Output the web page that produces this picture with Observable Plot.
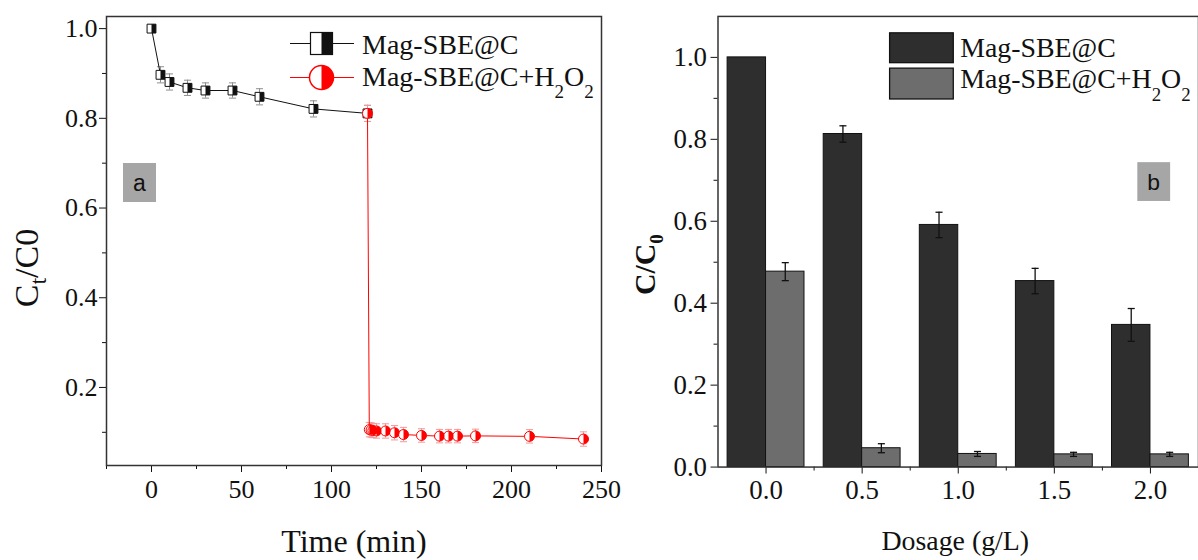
<!DOCTYPE html>
<html>
<head>
<meta charset="utf-8">
<script src="https://cdn.jsdelivr.net/npm/d3@7"></script>
<script src="https://cdn.jsdelivr.net/npm/@observablehq/plot@0.6"></script>
<style>
html, body { margin: 0; padding: 0; background: #fff; overflow: hidden; }
#wrap { position: relative; width: 1198px; height: 560px; overflow: hidden; }
#pa { position: absolute; left: 0; top: 0; }
#pb { position: absolute; left: 620px; top: 0; }
</style>
</head>
<body>
<div id="wrap"><div id="pa"></div><div id="pb"></div></div>
<script>
// ---------- Panel a data ----------
const seriesNames = ["Mag-SBE@C", "Mag-SBE@C+H2O2"];
const timeA  = [0, 5, 10, 20, 30, 45, 60, 90, 120];
const ratioA = [1.0, 0.897, 0.881, 0.868, 0.862, 0.862, 0.848, 0.821, 0.811];
const errA   = [0.006, 0.018, 0.018, 0.017, 0.017, 0.017, 0.018, 0.018, 0.018];
const timeB  = [120, 121, 122, 123, 125, 130, 135, 140, 150, 160, 165, 170, 180, 210, 240];
const ratioB = [0.811, 0.106, 0.105, 0.104, 0.103, 0.103, 0.099, 0.095, 0.093, 0.0915, 0.0915, 0.0915, 0.092, 0.091, 0.085];
const errB   = [0.018, 0.016, 0.016, 0.016, 0.016, 0.016, 0.016, 0.016, 0.015, 0.015, 0.015, 0.015, 0.015, 0.015, 0.016];
const xTicksA = [0, 50, 100, 150, 200, 250];
const xMinorA = [-25, 25, 75, 125, 175, 225];
const yTicksA = [0.2, 0.4, 0.6, 0.8, 1.0];
const yMinorA = [0.1, 0.3, 0.5, 0.7, 0.9];

// ---------- Panel b data ----------
const dosage  = [0.0, 0.5, 1.0, 1.5, 2.0];
const barC    = [1.0, 0.813, 0.591, 0.454, 0.347];
const barCErr = [0, 0.02, 0.031, 0.031, 0.04];
const barH    = [0.477, 0.046, 0.032, 0.031, 0.031];
const barHErr = [0.022, 0.011, 0.006, 0.005, 0.005];
const xTicksB = [0.0, 0.5, 1.0, 1.5, 2.0];
const xMinorB = [0.25, 0.75, 1.25, 1.75];
const yTicksB = [0.0, 0.2, 0.4, 0.6, 0.8, 1.0];
const yMinorB = [0.1, 0.3, 0.5, 0.7, 0.9];

const SERIF = "Liberation Serif, Times New Roman, serif";
const SANS = "Liberation Sans, Arial, sans-serif";

const dataA = timeA.map((t, i) => ({t, v: ratioA[i], e: errA[i]}));
const dataB = timeB.map((t, i) => ({t, v: ratioB[i], e: errB[i]}));
const dataD = dosage.map((d, i) => ({d, c: barC[i], ce: barCErr[i], h: barH[i], he: barHErr[i]}));

// custom symbols
const halfSquare = {draw(ctx, size) { const s = Math.sqrt(size) / 2; ctx.moveTo(0, -s); ctx.lineTo(s, -s); ctx.lineTo(s, s); ctx.lineTo(0, s); ctx.closePath(); }};
const halfCircle = {draw(ctx, size) { const r = Math.sqrt(size / Math.PI); ctx.moveTo(0, -r); ctx.arc(0, 0, r, -Math.PI / 2, Math.PI / 2); ctx.closePath(); }};
const cap = {draw(ctx, size) { const w = Math.sqrt(size) / 2; ctx.moveTo(-w, 0); ctx.lineTo(w, 0); }};

function errMarks(data, xf, color, width) {
  return [
    Plot.ruleX(data, {x: xf, y1: d => d.v - d.e, y2: d => d.v + d.e, stroke: color, strokeWidth: width}),
    Plot.dot(data, {x: xf, y: d => d.v + d.e, symbol: cap, r: 4, fill: "none", stroke: color, strokeWidth: width}),
    Plot.dot(data, {x: xf, y: d => d.v - d.e, symbol: cap, r: 4, fill: "none", stroke: color, strokeWidth: width})
  ];
}

const fa = {fontFamily: SERIF, fontSize: 26};
const fb = {fontFamily: SERIF, fontSize: 27};

const plotA = Plot.plot({
  width: 620, height: 560,
  marginLeft: 106, marginRight: 19, marginTop: 16, marginBottom: 95,
  x: {domain: [-25, 250]},
  y: {domain: [0.026, 1.027]},
  style: {color: "#111", background: "transparent", overflow: "visible"},
  marks: [
    Plot.axisX({ticks: xTicksA, tickSize: 7, tickPadding: 7, tickFormat: d => String(d), label: null, ...fa}),
    Plot.axisX({ticks: xMinorA, tickSize: 4, tickFormat: () => "", label: null}),
    Plot.axisY({ticks: yTicksA, tickSize: 7, tickPadding: 2, tickFormat: d3.format(".1f"), label: null, ...fa}),
    Plot.axisY({ticks: yMinorA, tickSize: 4, tickFormat: () => "", label: null}),
    ...errMarks(dataA, "t", "#8f8f8f", 1),
    ...errMarks(dataB, "t", "#f19a9a", 1),
    Plot.line(dataA, {x: "t", y: "v", stroke: "#111", strokeWidth: 1}),
    Plot.line(dataB, {x: "t", y: "v", stroke: "#ff0000", strokeWidth: 1}),
    Plot.dot(dataA, {x: "t", y: "v", symbol: "square", r: 5, fill: "#fff", stroke: "#111", strokeWidth: 1}),
    Plot.dot(dataA, {x: "t", y: "v", symbol: halfSquare, r: 5, fill: "#111", stroke: "none"}),
    Plot.dot(dataB, {x: "t", y: "v", symbol: "circle", r: 5, fill: "#fff", stroke: "#ff0000", strokeWidth: 1}),
    Plot.dot(dataB, {x: "t", y: "v", symbol: halfCircle, r: 5, fill: "#ff0000", stroke: "none"}),
    Plot.frame({stroke: "#333", strokeWidth: 1.5})
  ]
});

const plotB = Plot.plot({
  width: 581, height: 560,
  marginLeft: 98, marginRight: 0, marginTop: 16, marginBottom: 91,
  x: {domain: [-0.25, 2.25]},
  y: {domain: [0, 1.1]},
  style: {color: "#111", background: "transparent", overflow: "visible"},
  marks: [
    Plot.rectY(dataD, {x1: d => d.d - 0.2, x2: "d", y1: 0, y2: "c", fill: "#2e2e2e", stroke: "#111", strokeWidth: 1}),
    Plot.rectY(dataD, {x1: "d", x2: d => d.d + 0.2, y1: 0, y2: "h", fill: "#6d6d6d", stroke: "#111", strokeWidth: 1}),
    ...errMarks(dataD.filter(d => d.ce > 0).map(d => ({x: d.d - 0.1, v: d.c, e: d.ce})), "x", "#111", 1.3),
    ...errMarks(dataD.map(d => ({x: d.d + 0.1, v: d.h, e: d.he})), "x", "#111", 1.3),
    Plot.axisX({ticks: xTicksB, tickSize: 7, tickPadding: 6, tickFormat: d3.format(".1f"), label: null, ...fb}),
    Plot.axisX({ticks: xMinorB, tickSize: 4, tickFormat: () => "", label: null}),
    Plot.axisY({ticks: yTicksB, tickSize: 7, tickPadding: 4, tickFormat: d3.format(".1f"), label: null, ...fb}),
    Plot.axisY({ticks: yMinorB, tickSize: 4, tickFormat: () => "", label: null}),
    Plot.frame({stroke: "#333", strokeWidth: 1.5})
  ]
});

document.getElementById("pa").appendChild(plotA);
document.getElementById("pb").appendChild(plotB);

function richText(g, x, y, parts, o) {
  const t = g.append("text")
    .attr("font-family", o.family || SERIF)
    .attr("font-size", o.size)
    .attr("fill", "#111")
    .attr("text-anchor", o.anchor || "start");
  if (o.weight) t.attr("font-weight", o.weight);
  if (o.rotate) t.attr("transform", `translate(${x},${y}) rotate(${o.rotate})`);
  else t.attr("x", x).attr("y", y);
  let shifted = 0;
  for (const [s, sub] of parts) {
    const ts = t.append("tspan").text(s);
    const target = sub ? o.subShift : 0;
    if (target !== shifted) { ts.attr("dy", target - shifted); shifted = target; }
    if (sub) ts.attr("font-size", o.subSize);
  }
  return t;
}

// ---------- annotations panel a ----------
const ga = d3.select(plotA).append("g");
richText(ga, 38, 268, [["C"], ["t", true], ["/C0"]], {size: 34, anchor: "middle", rotate: -90, subShift: 8, subSize: 24});
richText(ga, 354, 552, [["Time (min)"]], {size: 32, anchor: "middle"});
// legend a
ga.append("line").attr("x1", 290).attr("x2", 354).attr("y1", 43.5).attr("y2", 43.5).attr("stroke", "#111").attr("stroke-width", 1);
ga.append("rect").attr("x", 310.5).attr("y", 32.5).attr("width", 22).attr("height", 22).attr("fill", "#fff").attr("stroke", "#111").attr("stroke-width", 1.2);
ga.append("rect").attr("x", 321.5).attr("y", 32.5).attr("width", 11).attr("height", 22).attr("fill", "#111");
ga.append("line").attr("x1", 290).attr("x2", 354).attr("y1", 77.5).attr("y2", 77.5).attr("stroke", "#ff0000").attr("stroke-width", 1);
ga.append("circle").attr("cx", 321.5).attr("cy", 77.5).attr("r", 12).attr("fill", "#fff").attr("stroke", "#ff0000").attr("stroke-width", 1.5);
ga.append("path").attr("d", d3.arc()({innerRadius: 0, outerRadius: 12, startAngle: 0, endAngle: Math.PI})).attr("transform", "translate(321.5,77.5)").attr("fill", "#ff0000");
richText(ga, 362, 53.5, [[seriesNames[0]]], {size: 28});
richText(ga, 362, 85.5, [["Mag-SBE@C+H"], ["2", true], ["O"], ["2", true]], {size: 28, subShift: 12, subSize: 19});
// label box a
ga.append("rect").attr("x", 123).attr("y", 163).attr("width", 33).attr("height", 39).attr("fill", "#a6a6a6");
richText(ga, 139.5, 191, [["a"]], {size: 23, anchor: "middle", family: SANS});

// ---------- annotations panel b ----------
const gb = d3.select(plotB).append("g");
richText(gb, 35, 266, [["C/C"], ["0", true]], {size: 30, weight: "bold", anchor: "middle", rotate: -90, subShift: 8, subSize: 19});
richText(gb, 337, 553, [["Dosage (g/L)"]], {size: 28, anchor: "middle"});
gb.append("rect").attr("x", 271).attr("y", 33).attr("width", 64).attr("height", 30).attr("fill", "#2e2e2e").attr("stroke", "#111").attr("stroke-width", 1.3);
gb.append("rect").attr("x", 271).attr("y", 68.5).attr("width", 64).attr("height", 31).attr("fill", "#6d6d6d").attr("stroke", "#111").attr("stroke-width", 1.3);
richText(gb, 342, 57, [[seriesNames[0]]], {size: 28});
richText(gb, 342, 88.5, [["Mag-SBE@C+H"], ["2", true], ["O"], ["2", true]], {size: 28, subShift: 13, subSize: 19});
gb.append("rect").attr("x", 520).attr("y", 163).attr("width", 33).attr("height", 39).attr("fill", "#a6a6a6");
richText(gb, 536.5, 191, [["b"]], {size: 23, anchor: "middle", family: SANS});
</script>
</body>
</html>
